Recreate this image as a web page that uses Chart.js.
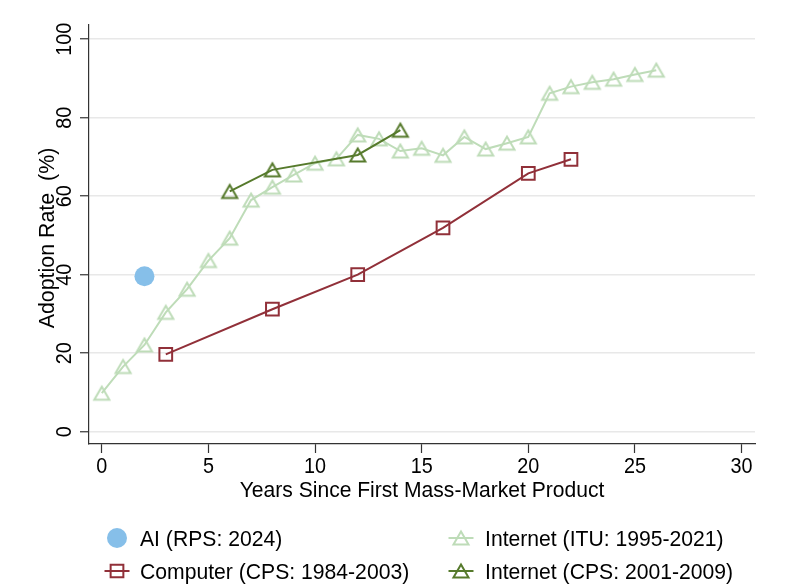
<!DOCTYPE html>
<html><head><meta charset="utf-8">
<script src="https://cdn.jsdelivr.net/npm/chart.js@4.4.1/dist/chart.umd.min.js"></script>
<style>html,body{margin:0;padding:0;background:#fff;}#wrap{width:804px;height:588px;}</style>
</head><body><div id="wrap"><canvas id="c" width="804" height="588"></canvas></div>
<script>
// ---- data ----
const xTicks = [0, 5, 10, 15, 20, 25, 30];
const yTicks = [0, 20, 40, 60, 80, 100];
const aiX = [2];
const aiY = [39.6];
const compX = [3, 8, 12, 16, 20, 22];
const compY = [19.7, 31.2, 40.0, 51.9, 65.8, 69.4];
const ituX = [0,1,2,3,4,5,6,7,8,9,10,11,12,13,14,15,16,17,18,19,20,21,22,23,24,25,26];
const ituY = [9.8,16.6,22.1,30.4,36.3,43.6,49.3,59.0,62.3,65.4,68.4,69.5,75.6,74.6,71.5,72.2,70.4,75.1,72.0,73.5,75.1,86.2,87.9,89.0,89.8,91.0,92.1];
const cpsX = [6, 8, 12, 14];
const cpsY = [61.2, 66.7, 70.5, 76.8];
const seriesLabels = ['AI (RPS: 2024)', 'Computer (CPS: 1984-2003)', 'Internet (ITU: 1995-2021)', 'Internet (CPS: 2001-2009)'];
const xTitle = 'Years Since First Mass-Market Product';
const yTitle = 'Adoption Rate  (%)';

const BLUE = '#86BFE9', RED = '#913039', LGREEN = '#BEDCB8', DGREEN = '#567A2C';
const FONT = '"Liberation Sans", Arial, sans-serif';
const TRI_R = 8.7;

const pts = (xs, ys) => xs.map((x, i) => ({x: x, y: ys[i]}));

function triPath(ctx, x, y, r) {
  // triangle whose bounding box is centred on (x, y)
  const cy = y + r / 4, h = r * Math.sin(Math.PI / 3);
  ctx.moveTo(x, cy - r);
  ctx.lineTo(x + h, cy + r / 2);
  ctx.lineTo(x - h, cy + r / 2);
  ctx.closePath();
}

function triImage(color) {
  const c = document.createElement('canvas');
  c.width = 26; c.height = 26;
  const g = c.getContext('2d');
  g.beginPath();
  triPath(g, 13, 13, TRI_R);
  g.strokeStyle = color; g.lineWidth = 2; g.lineJoin = 'miter';
  g.stroke();
  return c;
}
const triLight = triImage(LGREEN);
const triDark = triImage(DGREEN);

function marker(ctx, style, x, y, r, color, fill) {
  ctx.save();
  ctx.beginPath();
  if (style === 'circle') {
    ctx.arc(x, y, r, 0, Math.PI * 2);
  } else if (style === 'triangle') {
    triPath(ctx, x, y, r);
  } else {
    const s = r * Math.SQRT1_2;
    ctx.rect(x - s, y - s, 2 * s, 2 * s);
  }
  if (fill) { ctx.fillStyle = color; ctx.fill(); }
  else { ctx.strokeStyle = color; ctx.lineWidth = 2; ctx.stroke(); }
  ctx.restore();
}

function txt(ctx, s, x, y, size, sx, align, rot) {
  ctx.save();
  ctx.font = size + 'px ' + FONT;
  ctx.textAlign = align;
  ctx.textBaseline = 'alphabetic';
  ctx.translate(x, y);
  if (rot) ctx.rotate(rot);
  ctx.scale(sx, 1);
  ctx.fillText(s, 0, 0);
  ctx.restore();
}

const textPlugin = {
  id: 'texts',
  afterDraw(chart) {
    const ctx = chart.ctx, xs = chart.scales.x, ys = chart.scales.y;
    ctx.save();
    ctx.fillStyle = '#000';
    xTicks.forEach(v => txt(ctx, String(v), xs.getPixelForValue(v), 472.5, 22, 0.9, 'center', 0));
    yTicks.forEach(v => txt(ctx, String(v), 70.5, ys.getPixelForValue(v), 22, 0.9, 'center', -Math.PI / 2));
    txt(ctx, xTitle, (chart.chartArea.left + chart.chartArea.right) / 2, 497, 21.5, 0.98, 'center', 0);
    txt(ctx, yTitle, 54, 238, 22.5, 0.95, 'center', -Math.PI / 2);
    // legend
    const items = [
      {lab: seriesLabels[0], c: BLUE, st: 'circle', r: 10, fill: true, line: false, mx: 117, tx: 140, y: 538},
      {lab: seriesLabels[2], c: LGREEN, st: 'triangle', r: TRI_R, fill: false, line: true, mx: 461, tx: 485, y: 538},
      {lab: seriesLabels[1], c: RED, st: 'rect', r: 9, fill: false, line: true, mx: 117, tx: 140, y: 571},
      {lab: seriesLabels[3], c: DGREEN, st: 'triangle', r: TRI_R, fill: false, line: true, mx: 461, tx: 485, y: 571}
    ];
    items.forEach(it => {
      if (it.line) {
        ctx.save();
        ctx.strokeStyle = it.c; ctx.lineWidth = 2;
        ctx.beginPath(); ctx.moveTo(it.mx - 12.5, it.y); ctx.lineTo(it.mx + 12.5, it.y); ctx.stroke();
        ctx.restore();
      }
      marker(ctx, it.st, it.mx, it.y, it.r, it.c, it.fill);
      ctx.fillStyle = '#000';
      txt(ctx, it.lab, it.tx, it.y + 8.3, 22.5, 0.94, 'left', 0);
    });
    ctx.restore();
  }
};

new Chart(document.getElementById('c'), {
  type: 'scatter',
  data: {
    datasets: [
      {label: seriesLabels[0], data: pts(aiX, aiY), pointStyle: 'circle', pointRadius: 10, pointHoverRadius: 10,
       backgroundColor: BLUE, borderColor: BLUE, borderWidth: 0, showLine: false, order: 0},
      {label: seriesLabels[1], data: pts(compX, compY), pointStyle: 'rect', pointRadius: 9, pointHoverRadius: 9,
       backgroundColor: 'rgba(0,0,0,0)', borderColor: RED, pointBorderWidth: 2, borderWidth: 2, showLine: true, order: 1},
      {label: seriesLabels[2], data: pts(ituX, ituY), pointStyle: triLight,
       borderColor: LGREEN, borderWidth: 2, showLine: true, order: 3},
      {label: seriesLabels[3], data: pts(cpsX, cpsY), pointStyle: triDark,
       borderColor: DGREEN, borderWidth: 2, showLine: true, order: 2}
    ]
  },
  options: {
    responsive: false,
    animation: false,
    devicePixelRatio: 1,
    layout: {padding: {top: 25, right: 49, left: 0, bottom: 0}},
    plugins: {legend: {display: false}, tooltip: {enabled: false}},
    scales: {
      x: {
        type: 'linear', min: -0.6, max: 30.63,
        afterBuildTicks: s => { s.ticks = xTicks.map(v => ({value: v})); },
        afterFit: s => { s.height = 144; },
        ticks: {display: false},
        grid: {drawOnChartArea: false, drawTicks: true, tickLength: 9, tickColor: '#333', tickWidth: 1.2},
        border: {display: true, color: '#333', width: 1.2}
      },
      y: {
        type: 'linear', min: -3.13, max: 103.6,
        afterBuildTicks: s => { s.ticks = yTicks.map(v => ({value: v})); },
        afterFit: s => { s.width = 89; },
        ticks: {display: false},
        grid: {color: '#e8e8e8', lineWidth: 1.5, drawTicks: true, tickLength: 9, tickColor: '#333', tickWidth: 1.2},
        border: {display: true, color: '#333', width: 1.2}
      }
    }
  },
  plugins: [textPlugin]
});
</script></body></html>
